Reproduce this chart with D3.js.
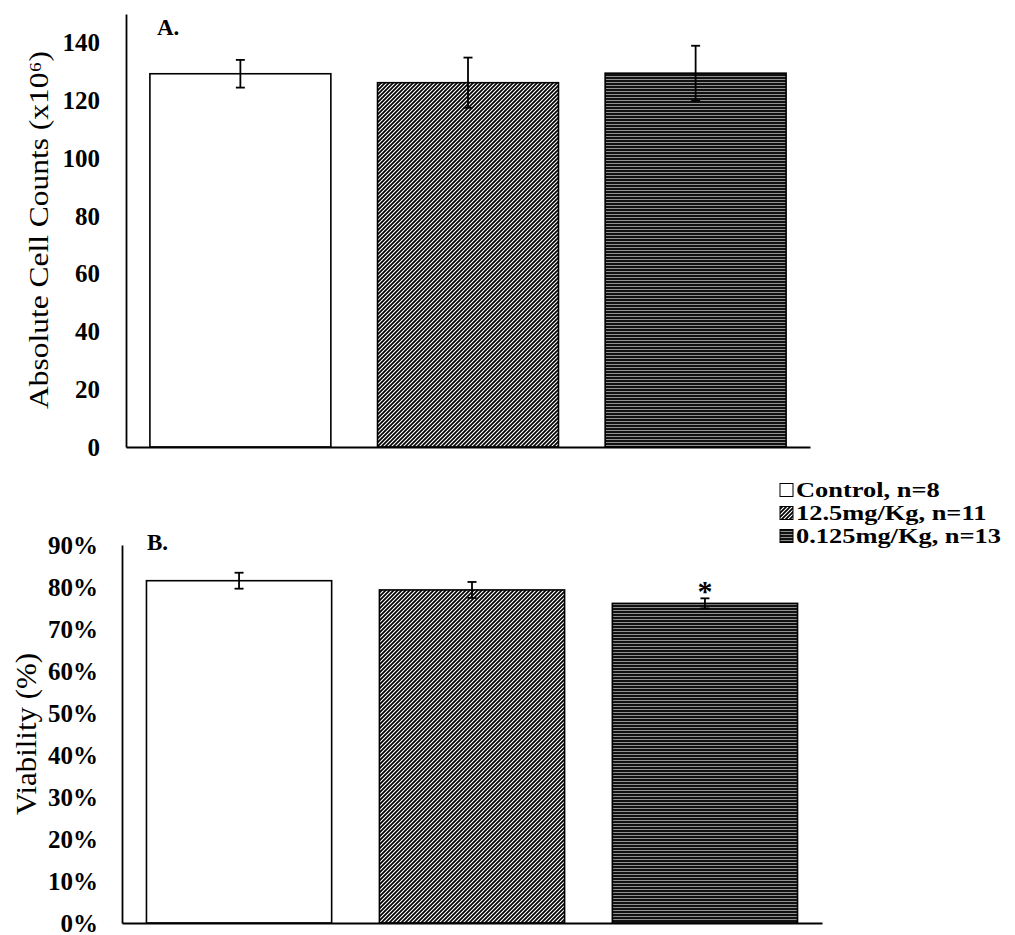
<!DOCTYPE html>
<html>
<head>
<meta charset="utf-8">
<script src="https://cdn.jsdelivr.net/npm/d3@7"></script>
<style>
  body { margin: 0; background: #fff; }
  svg { display: block; }
  .tick text { font-family: "Liberation Serif", "Times New Roman", serif; font-weight: bold; }
</style>
</head>
<body>
<div id="chart"></div>
<script>
// data
var groups = ["Control, n=8", "12.5mg/Kg, n=11", "0.125mg/Kg, n=13"];
var cellCounts = [129.3, 126.2, 129.5];
var cellCountsErr = [4.8, 8.7, 9.5];
var viability = [0.815, 0.793, 0.761];
var viabilityErr = [0.019, 0.019, 0.012];
var significant = [false, false, true];
var countTicks = [0, 20, 40, 60, 80, 100, 120, 140];
var viabilityTicks = [0, 0.1, 0.2, 0.3, 0.4, 0.5, 0.6, 0.7, 0.8, 0.9];

var fills = ["#ffffff", "url(#diag)", "url(#horiz)"];

var svg = d3.select("#chart")
  .append("svg")
  .attr("width", 1015)
  .attr("height", 935);

// hatch patterns
var defs = svg.append("defs");
var diag = defs.append("pattern")
  .attr("id", "diag")
  .attr("patternUnits", "userSpaceOnUse")
  .attr("width", 4)
  .attr("height", 4);
diag.append("rect").attr("width", 4).attr("height", 4).attr("fill", "#fff");
diag.append("path")
  .attr("d", "M-1,1 l2,-2 M0,4 l4,-4 M3,5 l2,-2")
  .attr("stroke", "#000")
  .attr("stroke-width", 1.7);

var horiz = defs.append("pattern")
  .attr("id", "horiz")
  .attr("patternUnits", "userSpaceOnUse")
  .attr("width", 4)
  .attr("height", 3);
horiz.append("rect").attr("width", 4).attr("height", 3).attr("fill", "#111");
horiz.append("rect").attr("y", 1).attr("width", 4).attr("height", 0.8).attr("fill", "#b0b0b0");

function drawPanel(opts) {
  var x = d3.scaleBand()
    .domain(groups)
    .range(opts.xRange)
    .paddingInner(0.205)
    .paddingOuter(0.105);

  var y = d3.scaleLinear().domain(opts.yDomain).range(opts.yRange);

  var g = svg.append("g");

  // bars
  g.append("g")
    .selectAll("rect")
    .data(groups)
    .join("rect")
    .attr("x", (d) => x(d))
    .attr("y", (d, i) => y(opts.values[i]))
    .attr("width", x.bandwidth())
    .attr("height", (d, i) => y(0) - y(opts.values[i]))
    .attr("fill", (d, i) => fills[i])
    .attr("stroke", "#000")
    .attr("stroke-width", 1.6);

  // error bars
  var err = g.append("g")
    .selectAll("g")
    .data(groups)
    .join("g")
    .attr("transform", (d) => "translate(" + (x(d) + x.bandwidth() / 2) + ",0)");

  err.append("line")
    .attr("y1", (d, i) => y(opts.values[i] + opts.errors[i]))
    .attr("y2", (d, i) => y(opts.values[i] - opts.errors[i]))
    .attr("stroke", "#000")
    .attr("stroke-width", 1.8);
  err.append("line")
    .attr("x1", -4.5).attr("x2", 4.5)
    .attr("y1", (d, i) => y(opts.values[i] + opts.errors[i]))
    .attr("y2", (d, i) => y(opts.values[i] + opts.errors[i]))
    .attr("stroke", "#000")
    .attr("stroke-width", 1.8);
  err.append("line")
    .attr("x1", -4.5).attr("x2", 4.5)
    .attr("y1", (d, i) => y(opts.values[i] - opts.errors[i]))
    .attr("y2", (d, i) => y(opts.values[i] - opts.errors[i]))
    .attr("stroke", "#000")
    .attr("stroke-width", 1.8);

  if (opts.stars) {
    err.filter((d, i) => opts.stars[i])
      .append("text")
      .attr("y", (d) => {
        var i = groups.indexOf(d);
        return y(opts.values[i] + opts.errors[i]) + 3;
      })
      .attr("text-anchor", "middle")
      .attr("font-family", "Liberation Serif, serif")
      .attr("font-weight", "bold")
      .attr("font-size", 30)
      .text("*");
  }

  // y axis
  var yAxis = g.append("g")
    .attr("transform", "translate(" + opts.xRange[0] + ",0)")
    .call(d3.axisLeft(y)
      .tickValues(opts.ticks)
      .tickFormat(opts.format)
      .tickSize(0)
      .tickPadding(opts.tickPad));
  yAxis.select(".domain").attr("stroke-width", 1.8);
  yAxis.selectAll(".tick text").attr("font-size", 25);

  // baseline
  var xAxis = g.append("g")
    .attr("transform", "translate(0," + y(0) + ")")
    .call(d3.axisBottom(x).tickSize(0).tickFormat(""));
  xAxis.select(".domain").attr("stroke-width", 1.8);

  // axis title (scan is stretched along its length)
  g.append("text")
    .attr("transform", "translate(" + opts.titleX + "," + opts.titleY + ") rotate(-90)")
    .attr("text-anchor", "middle")
    .attr("font-family", "Liberation Serif, serif")
    .attr("font-size", opts.titleSize)
    .attr("textLength", opts.titleLength)
    .attr("lengthAdjust", "spacingAndGlyphs")
    .text(opts.title);

  // panel letter
  g.append("text")
    .attr("x", opts.letterX)
    .attr("y", opts.letterY)
    .attr("font-family", "Liberation Serif, serif")
    .attr("font-weight", "bold")
    .attr("font-size", 23)
    .text(opts.letter);
}

drawPanel({
  xRange: [126, 810],
  yDomain: [0, 150],
  yRange: [447, 14],
  values: cellCounts,
  errors: cellCountsErr,
  ticks: countTicks,
  format: d3.format("d"),
  tickPad: 26,
  title: "Absolute Cell Counts (x10\u2076)",
  titleSize: 27,
  titleLength: 358,
  titleX: 48,
  titleY: 230,
  letter: "A.",
  letterX: 157,
  letterY: 35
});

drawPanel({
  xRange: [122, 822],
  yDomain: [0, 0.9],
  yRange: [923, 545],
  values: viability,
  errors: viabilityErr,
  stars: significant,
  ticks: viabilityTicks,
  format: d3.format(".0%"),
  tickPad: 24,
  title: "Viability (%)",
  titleSize: 30,
  titleLength: 162,
  titleX: 36,
  titleY: 734,
  letter: "B.",
  letterX: 147,
  letterY: 550
});

// legend
var legend = svg.append("g")
  .selectAll("g")
  .data(groups)
  .join("g")
  .attr("transform", (d, i) => "translate(780," + (490 + i * 23) + ")");

legend.append("rect")
  .attr("y", -6.5)
  .attr("width", 13)
  .attr("height", 13)
  .attr("fill", (d, i) => fills[i])
  .attr("stroke", "#000")
  .attr("stroke-width", 1);

legend.append("text")
  .attr("x", 16)
  .attr("dy", "0.35em")
  .attr("font-family", "Liberation Serif, serif")
  .attr("font-weight", "bold")
  .attr("font-size", 20)
  .text((d) => d)
  .each(function () {
    // widen to match the scanned legend
    var w = this.getComputedTextLength();
    d3.select(this)
      .attr("textLength", w * 1.32)
      .attr("lengthAdjust", "spacingAndGlyphs");
  });
</script>
</body>
</html>
